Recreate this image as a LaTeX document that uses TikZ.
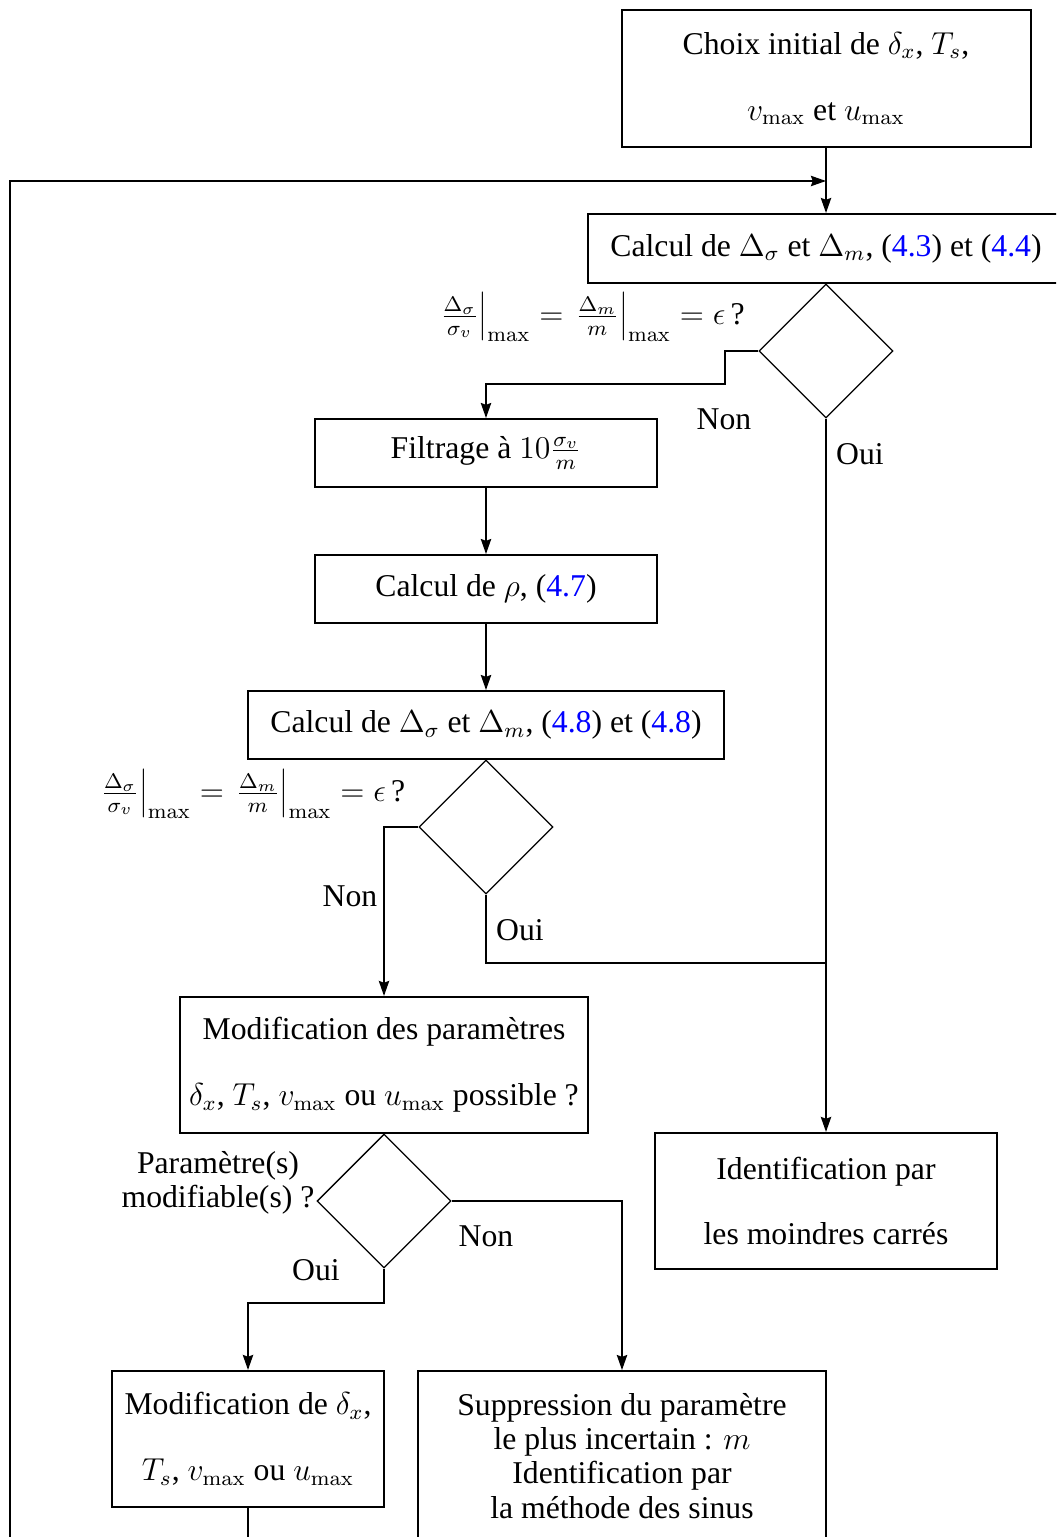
\documentclass[tikz,border=0pt]{standalone}
\usepackage[no-math]{fontspec}
\setmainfont{Liberation Serif}
\usetikzlibrary{shapes.geometric,arrows.meta}
\begin{document}
\begin{tikzpicture}[x=0.3785pt,y=-0.3785pt,
  txt/.style={font=\fontsize{12}{12.9}\selectfont},
  box/.style={txt,draw,line width=0.75pt,inner sep=0pt,align=center},
  dia/.style={draw,diamond,aspect=1,line width=0.5pt,inner sep=0pt,minimum width=50.7pt,minimum height=50.7pt},
  lbl/.style={txt,inner sep=0pt,align=center},
  conn/.style={line width=0.75pt},
  arr/.style={conn,-{Stealth[length=5.7pt,width=3.9pt,inset=0.7pt]}}]
\useasboundingbox (0,0) rectangle (1056,1537);
\clip (0,0) rectangle (1056,1537);
\newcommand{\eqlink}[1]{\textcolor{blue}{#1}}
% boxes
\node[box,minimum width=154.8pt,minimum height=51.9pt] (b1) at (826,78.5) {Choix initial de $\delta_x$, $T_s$,\\[12pt]$v_{\max}$ et $u_{\max}$};
\node[box,minimum width=180.2pt,minimum height=26.1pt] (b2) at (826,248.5) {Calcul de $\Delta_\sigma$ et $\Delta_m$, (\eqlink{4.3}) et (\eqlink{4.4})};
\node[dia] (d1) at (826,351) {};
\node[lbl] (f1) at (591,317) {$\left.\frac{\Delta_\sigma}{\sigma_v}\right|_{\max} = \left.\frac{\Delta_m}{m}\right|_{\max} = \epsilon\,$?};
\node[box,minimum width=129.1pt,minimum height=25.7pt] (filt) at (486,453) {Filtrage à $10\frac{\sigma_v}{m}$};
\node[box,minimum width=129.1pt,minimum height=25.7pt] (rho) at (486,589) {Calcul de $\rho$, (\eqlink{4.7})};
\node[box,minimum width=180.2pt,minimum height=25.7pt] (b3) at (486,725) {Calcul de $\Delta_\sigma$ et $\Delta_m$, (\eqlink{4.8}) et (\eqlink{4.8})};
\node[dia] (d2) at (486,827) {};
\node[lbl] (f2) at (251.5,794) {$\left.\frac{\Delta_\sigma}{\sigma_v}\right|_{\max} = \left.\frac{\Delta_m}{m}\right|_{\max} = \epsilon\,$?};
\node[box,minimum width=154.4pt,minimum height=51.5pt] (mp) at (384,1065) {Modification des paramètres\\[12pt]$\delta_x$, $T_s$, $v_{\max}$ ou $u_{\max}$ possible ?};
\node[dia] (d3) at (384,1201) {};
\node[lbl] (f3) at (218,1183) {Paramètre(s)\\modifiable(s) ?};
\node[box,minimum width=129.1pt,minimum height=51.5pt] (id) at (826,1201) {Identification par\\[12pt]les moindres carrés};
\node[box,minimum width=103.0pt,minimum height=51.5pt] (mdx) at (248,1439) {Modification de $\delta_x$,\\[12pt]$T_s$, $v_{\max}$ ou $u_{\max}$};
\node[box,minimum width=154.4pt,minimum height=64.3pt] (sup) at (622,1456) {Suppression du paramètre\\le plus incertain : $m$\\Identification par\\la méthode des sinus};
% labels
\node[lbl] (non1) at (724,419) {Non};
\node[lbl] (oui1) at (860,454) {Oui};
\node[lbl] (non2) at (350,896) {Non};
\node[lbl] (oui2) at (520,930) {Oui};
\node[lbl] (non3) at (486,1236) {Non};
\node[lbl] (oui3) at (316,1270) {Oui};
% coordinates
\coordinate (n1a) at (725,384);
\coordinate (j) at (826,963);
\coordinate (fbb) at (10,1570);
\coordinate (fbt) at (10,181);
% connectors
\draw[arr] (b1.south) -- (b2.north);
\draw[arr] (mdx.south) |- (fbb) -- (fbt) -- (b1.south |- fbt);
\draw[conn] (b2.south) -- (d1.north);
\draw[arr] (d1.west) -| (n1a) -| (filt.north);
\draw[arr] (d1.south) -- (id.north);
\draw[arr] (filt.south) -- (rho.north);
\draw[arr] (rho.south) -- (b3.north);
\draw[conn] (b3.south) -- (d2.north);
\draw[arr] (d2.west) -| (mp.north);
\draw[conn] (d2.south) |- (j);
\draw[conn] (mp.south) -- (d3.north);
\draw[arr] (d3.east) -| (sup.north);
\draw[arr] (d3.south) -- ++(0,34) -| (mdx.north);
\end{tikzpicture}
\end{document}
